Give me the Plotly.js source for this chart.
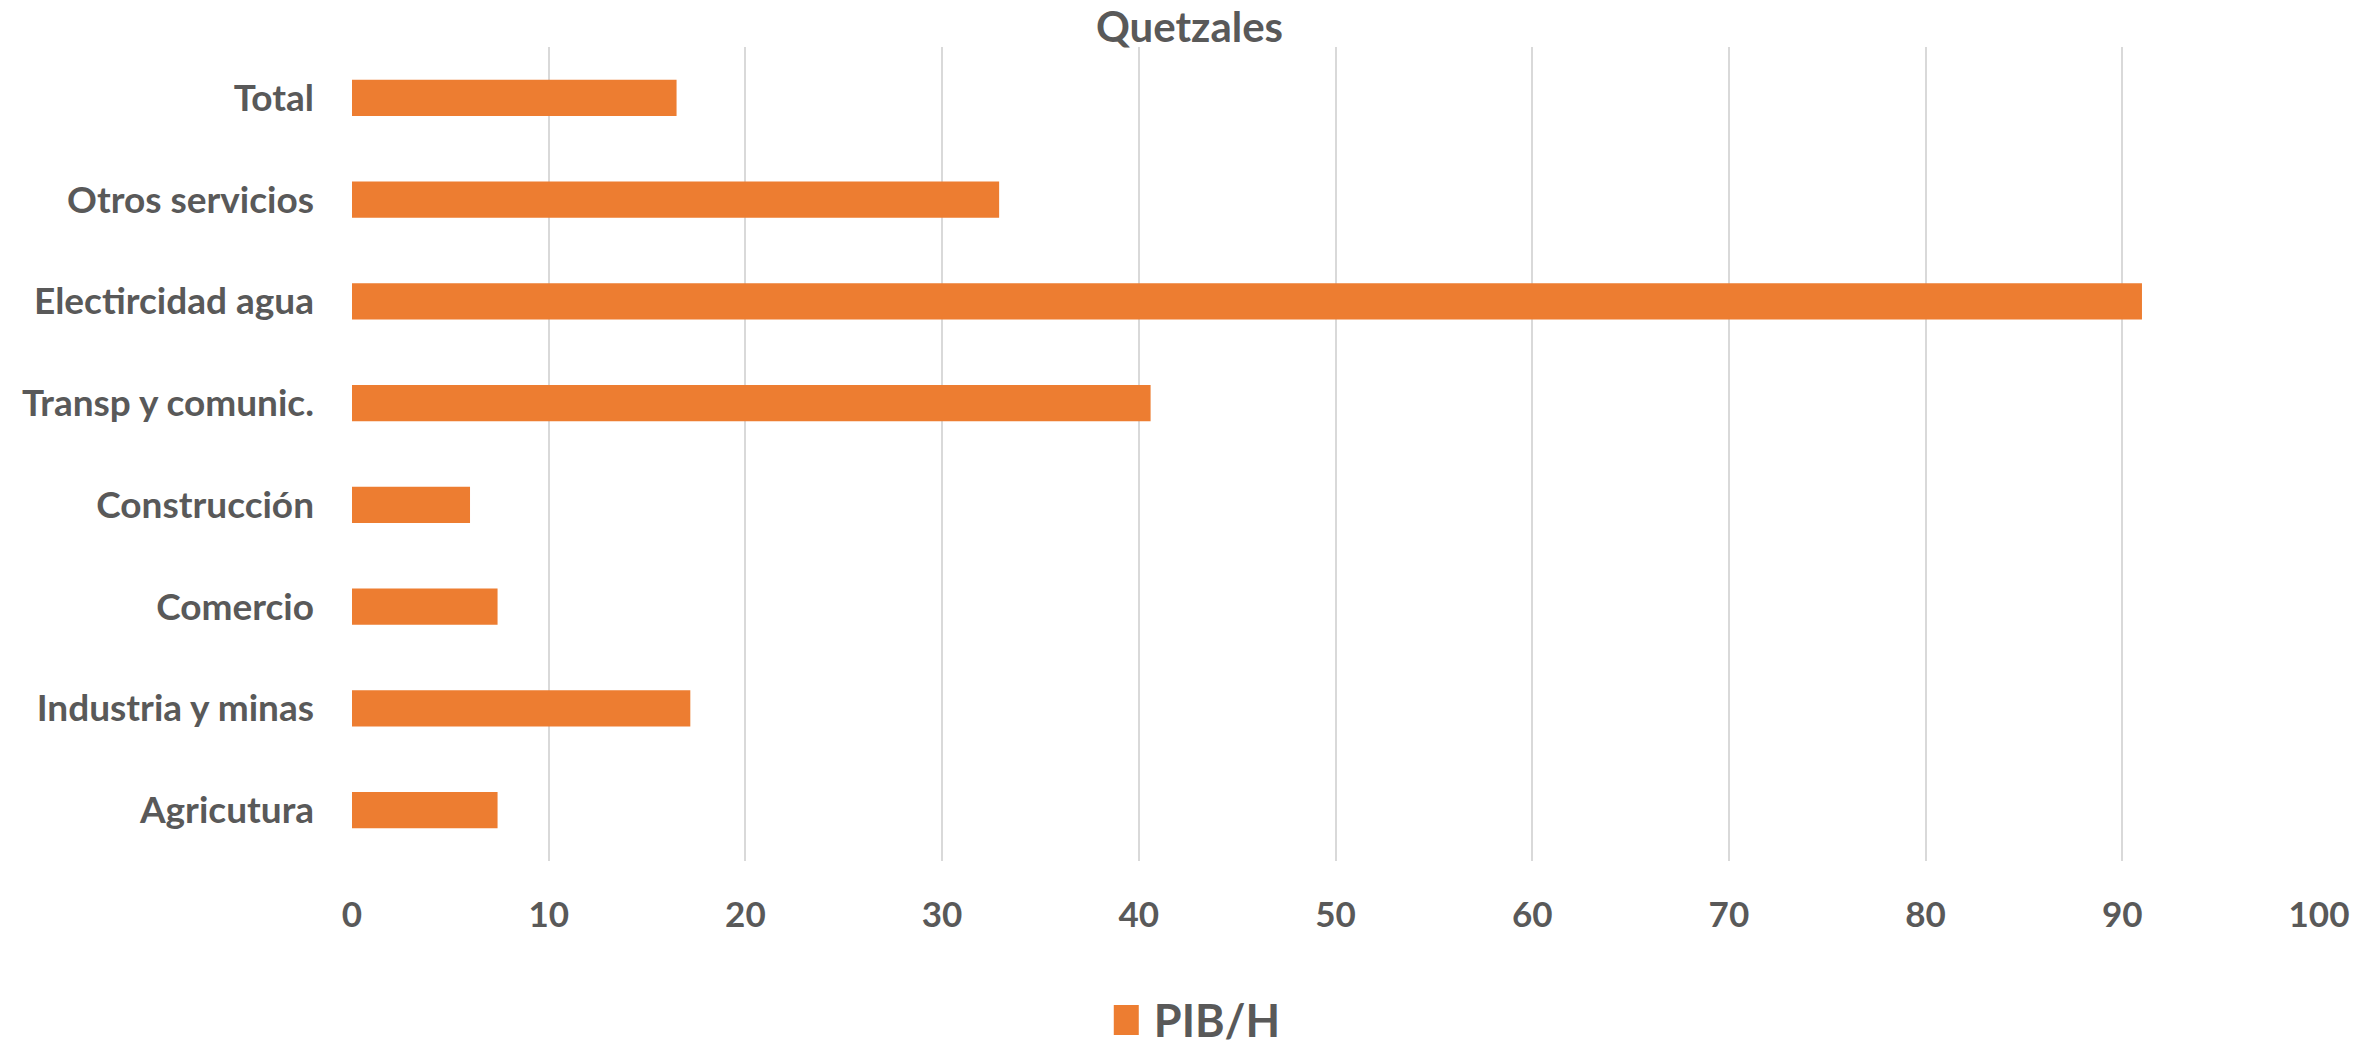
<!DOCTYPE html>
<html>
<head>
<meta charset="utf-8">
<script src="https://cdn.plot.ly/plotly-3.0.1.min.js"></script>
<style>html,body{margin:0;padding:0;background:#fff;}#chart{width:2379px;height:1056px;}</style>
</head>
<body>
<div id="chart"></div>
<script>
const categories = ['Agricutura', 'Industria y minas', 'Comercio', 'Construcción', 'Transp y comunic.', 'Electircidad agua', 'Otros servicios', 'Total'];
const pibH = [7.4, 17.2, 7.4, 6.0, 40.6, 91.0, 32.9, 16.5];
const seriesName = 'PIB/H';
const xTicks = [0, 10, 20, 30, 40, 50, 60, 70, 80, 90, 100];
const chartTitle = 'Quetzales';

const textColor = '#595959';
const fontFamily = 'Lato, "Open Sans", sans-serif';

const data = [{
  type: 'bar',
  orientation: 'h',
  y: categories,
  x: pibH,
  name: seriesName,
  marker: {color: '#ED7D31'},
  showlegend: true,
  hoverinfo: 'x+y'
}];

const layout = {
  width: 2379,
  height: 1056,
  paper_bgcolor: '#ffffff',
  plot_bgcolor: '#ffffff',
  margin: {l: 352, r: 60, t: 47, b: 195, autoexpand: false},
  font: {family: fontFamily, color: textColor, size: 34, weight: 'bold'},
  title: {
    text: '<b>' + chartTitle + '</b>',
    font: {family: fontFamily, size: 42, color: textColor},
    x: 0.5, xanchor: 'center',
    y: 0.974, yanchor: 'middle'
  },
  bargap: 0.646,
  showlegend: true,
  legend: {
    orientation: 'h',
    x: 0.431, xanchor: 'center',
    y: -0.1955, yanchor: 'middle',
    font: {family: fontFamily, size: 45, color: textColor, weight: 'bold'}
  },
  xaxis: {
    range: [0, 100],
    tickvals: xTicks,
    ticktext: xTicks.map(String),
    showgrid: true,
    gridcolor: '#d9d9d9',
    gridwidth: 2,
    zeroline: false,
    showline: false,
    ticks: '',
    automargin: false,
    ticklabelstandoff: 30,
    tickfont: {family: fontFamily, size: 35, color: textColor, weight: 'bold'},
    fixedrange: true
  },
  yaxis: {
    type: 'category',
    categoryorder: 'array',
    categoryarray: categories,
    showgrid: false,
    zeroline: false,
    showline: false,
    ticks: '',
    automargin: false,
    ticklabelstandoff: 37,
    tickfont: {family: fontFamily, size: 37, color: textColor, weight: 'bold'},
    fixedrange: true
  }
};

Plotly.newPlot('chart', data, layout, {displayModeBar: false, staticPlot: true}).then(function (gd) {
  // enlarge the legend swatch to match the reference's square, leaving a gap before the text
  const paths = gd.querySelectorAll('.legend path.legendbar, .legend .legendpoints path');
  paths.forEach(function (p) {
    p.setAttribute('d', 'M5,15H-25V-15H5Z');
  });
});
</script>
</body>
</html>
